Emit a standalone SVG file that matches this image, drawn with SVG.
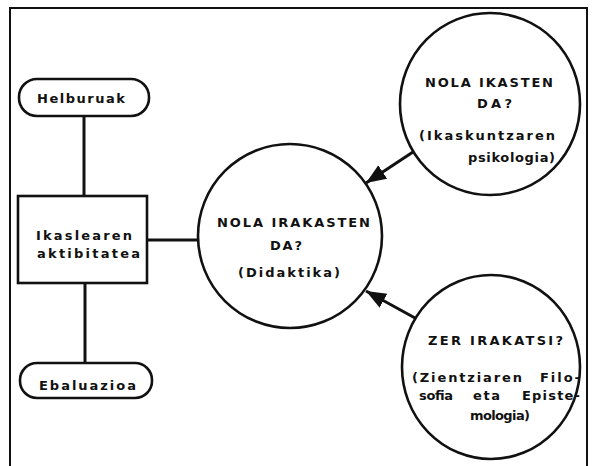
<svg xmlns="http://www.w3.org/2000/svg" width="594" height="466" viewBox="0 0 594 466">
<style>
.t{font-family:"DejaVu Sans","Liberation Sans",Arial,sans-serif;font-weight:bold;font-size:13px;fill:#111}
.s{fill:none;stroke:#111;stroke-width:3}
.c{fill:#fff;stroke:#111;stroke-width:2.6}
</style>
<defs>
<marker id="ah" markerUnits="userSpaceOnUse" markerWidth="22" markerHeight="18" refX="20" refY="8" orient="auto">
<path d="M0,0 L20,8 L0,16 Z" fill="#111"/>
</marker>
</defs>
<rect width="594" height="466" fill="#fff"/>
<rect x="10" y="8" width="577" height="470" fill="none" stroke="#111" stroke-width="2"/>
<g id="connectors">
<line class="s" x1="84" y1="116" x2="84" y2="196"/>
<line class="s" x1="85" y1="283" x2="85" y2="363"/>
<line class="s" x1="147" y1="240" x2="198" y2="240"/>
<line class="s" x1="413" y1="152" x2="366" y2="183" marker-end="url(#ah)"/>
<line class="s" x1="415" y1="318" x2="366" y2="291" marker-end="url(#ah)"/>
</g>
<g id="helburuak">
<rect class="c" x="19" y="79" width="130" height="37" rx="18"/>
<text class="t" x="37" y="103" textLength="88" lengthAdjust="spacing">Helburuak</text>
</g>
<g id="ikaslearen">
<rect class="c" x="18" y="196" width="129" height="87" stroke-width="3"/>
<text class="t" x="36" y="240" textLength="96" lengthAdjust="spacing">Ikaslearen</text>
<text class="t" x="37" y="258" textLength="103" lengthAdjust="spacing">aktibitatea</text>
</g>
<g id="ebaluazioa">
<rect class="c" x="20" y="363" width="132" height="35" rx="17"/>
<text class="t" x="39" y="390" textLength="97" lengthAdjust="spacing">Ebaluazioa</text>
</g>
<g id="didaktika">
<ellipse class="c" cx="290" cy="236" rx="92" ry="92"/>
<text class="t" x="217" y="227" textLength="153" lengthAdjust="spacing">NOLA IRAKASTEN</text>
<text class="t" x="270" y="250" textLength="32" lengthAdjust="spacing">DA?</text>
<text class="t" x="238" y="277" textLength="102" lengthAdjust="spacing">(Didaktika)</text>
</g>
<g id="psikologia">
<ellipse class="c" cx="490" cy="104" rx="90" ry="91"/>
<text class="t" x="425" y="87" textLength="128" lengthAdjust="spacing">NOLA IKASTEN</text>
<text class="t" x="477" y="108" textLength="35" lengthAdjust="spacing">DA?</text>
<text class="t" x="419" y="140" textLength="136" lengthAdjust="spacing">(Ikaskuntzaren</text>
<text class="t" x="468" y="162" textLength="87" lengthAdjust="spacing">psikologia)</text>
</g>
<g id="epistemologia">
<ellipse class="c" cx="491" cy="367" rx="89" ry="92"/>
<text class="t" x="428" y="345" textLength="135" lengthAdjust="spacing">ZER IRAKATSI?</text>
<text class="t" x="412" y="382" textLength="110" lengthAdjust="spacing">(Zientziaren</text>
<text class="t" x="540" y="382" textLength="40" lengthAdjust="spacing">Filo-</text>
<text class="t" x="419" y="400" textLength="34" lengthAdjust="spacing">sofia</text>
<text class="t" x="473" y="400" textLength="27" lengthAdjust="spacing">eta</text>
<text class="t" x="522" y="400" textLength="58" lengthAdjust="spacing">Episte-</text>
<text class="t" x="470" y="420" textLength="60" lengthAdjust="spacing">mologia)</text>
</g>
</svg>
